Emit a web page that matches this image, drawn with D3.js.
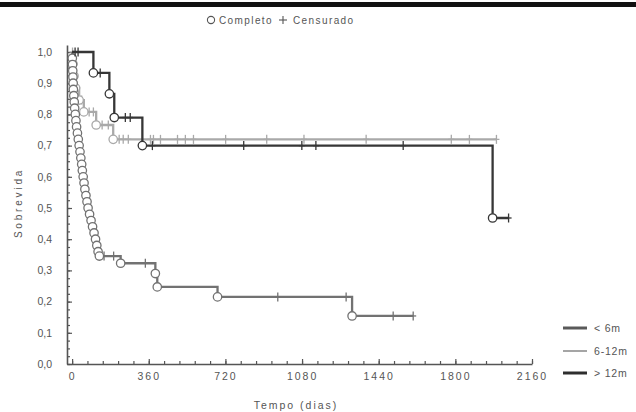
<!DOCTYPE html>
<html><head><meta charset="utf-8">
<script src="https://cdn.jsdelivr.net/npm/d3@7"></script>
<style>
html,body{margin:0;padding:0;background:#fff;}
svg{display:block;}
text{font-family:"Liberation Sans",Arial,sans-serif;fill:#555;}
</style></head>
<body>
<svg id="c" width="636" height="412"></svg>
<script>
// ---- data ----
const groups = ["< 6m", "6-12m", "> 12m"];
const xTicks = [0, 360, 720, 1080, 1440, 1800, 2160];
const yTicks = [0, 0.1, 0.2, 0.3, 0.4, 0.5, 0.6, 0.7, 0.8, 0.9, 1.0];

// < 6m : event times (days) and survival after each event
const lt6Times = [1,2,3,4,5,6,8,10,12,15,18,21,25,29,33,37,41,45,48,52,56,60,65,70,75,82,89,96,103,110,116,122,128,228,391,400,683,1315];
const lt6Surv  = [0.98,0.96,0.94,0.92,0.90,0.88,0.86,0.84,0.82,0.80,0.78,0.76,0.74,0.72,0.70,0.68,0.66,0.64,0.62,0.60,0.58,0.56,0.54,0.52,0.50,0.48,0.46,0.44,0.42,0.40,0.38,0.36,0.346,0.323,0.29,0.247,0.215,0.154];
const lt6Cens  = [150,195,344,966,1287,1508,1602];

// 6-12m
const m612Times = [4,9,16,33,55,113,193];
const m612Surv  = [0.962,0.923,0.885,0.846,0.808,0.766,0.72];
const m612Cens  = [2,45,80,100,141,170,221,240,264,368,382,415,495,532,570,721,914,1089,1381,1781,1866,1993];

// > 12m
const gt12Times = [100,175,198,330,1975];
const gt12Surv  = [0.933,0.866,0.79,0.70,0.468];
const gt12Cens  = [14,28,132,250,273,377,806,1079,1145,1555,2050];

const seriesColors = ["#727272", "#a9a9a9", "#363636"];
const legendColors = ["#5a5a5a", "#a5a5a5", "#2e2e2e"];

// ---- chart ----
const svg = d3.select("#c");
const x = d3.scaleLinear().domain([-24, 2160]).range([67, 532]);
const y = d3.scaleLinear().domain([0, 1.0225]).range([364, 45]);

// top rule
svg.append("rect").attr("x",0).attr("y",2).attr("width",636).attr("height",5).attr("fill","#111");

// axes
const gx = svg.append("g").attr("transform","translate(0,364)");
gx.call(d3.axisBottom(x).tickValues(d3.range(0, 2161, 72)).tickSize(-3).tickSizeOuter(0).tickFormat(""));
const gx2 = svg.append("g").attr("transform","translate(0,364)");
gx2.call(d3.axisBottom(x).tickValues(xTicks).tickSize(-5).tickSizeOuter(0).tickPadding(9).tickFormat(d3.format("d")));
gx2.select(".domain").remove();
const gy = svg.append("g").attr("transform","translate(67,0)");
gy.call(d3.axisLeft(y).tickValues(d3.range(0, 1.0001, 0.025)).tickSize(-3).tickSizeOuter(0).tickFormat(""));
const gy2 = svg.append("g").attr("transform","translate(67,0)");
gy2.call(d3.axisLeft(y).tickValues(yTicks).tickSize(-5).tickSizeOuter(0).tickPadding(15)
  .tickFormat(d => d3.format(".1f")(d).replace(".", ",")));
gy2.select(".domain").remove();
svg.selectAll(".domain").attr("stroke","#555").attr("stroke-width",1.6);
svg.selectAll(".tick line").attr("stroke","#555").attr("stroke-width",1.2);
svg.selectAll(".tick text").attr("font-size","10.5px").attr("fill","#555")
   .attr("font-family","'Liberation Sans',Arial,sans-serif");
gx2.selectAll(".tick text").attr("letter-spacing","2px");

// axis titles
svg.append("text").attr("x",296).attr("y",409).attr("text-anchor","middle")
  .attr("font-size","10.5px").attr("letter-spacing","2px").text("Tempo (dias)");
svg.append("text").attr("transform","translate(22,203) rotate(-90)").attr("text-anchor","middle")
  .attr("font-size","10px").attr("letter-spacing","2.8px").text("Sobrevida");

// KM curves
const seriesData = [
  {times: m612Times, surv: m612Surv, cens: m612Cens, col: seriesColors[1]},
  {times: lt6Times, surv: lt6Surv, cens: lt6Cens, col: seriesColors[0]},
  {times: gt12Times, surv: gt12Surv, cens: gt12Cens, col: seriesColors[2]}
];
const line = d3.line().x(d => x(d[0])).y(d => y(d[1])).curve(d3.curveStepAfter);
function survAt(s, t){ let v = 1; s.times.forEach((ti,i)=>{ if (ti <= t) v = s.surv[i]; }); return v; }

seriesData.forEach(s => {
  const end = Math.max(d3.max(s.times), d3.max(s.cens));
  const pts = [[0,1]].concat(s.times.map((t,i)=>[t, s.surv[i]]));
  pts.push([end, s.surv[s.surv.length-1]]);
  const g = svg.append("g");
  g.append("path").attr("d", line(pts)).attr("fill","none").attr("stroke", s.col).attr("stroke-width", 2.3);
  // censor marks
  s.cens.forEach(t => {
    const cx = x(t), cy = y(survAt(s, t));
    g.append("line").attr("x1",cx).attr("x2",cx).attr("y1",cy-4.5).attr("y2",cy+4.5).attr("stroke",s.col).attr("stroke-width",1.3);
    g.append("line").attr("x1",cx-3).attr("x2",cx+3).attr("y1",cy).attr("y2",cy).attr("stroke",s.col).attr("stroke-width",1.3);
  });
  // event circles
  g.selectAll("circle").data(s.times.map((t,i)=>[t,s.surv[i]])).join("circle")
    .attr("cx", d => x(d[0])).attr("cy", d => y(d[1])).attr("r", 4.2)
    .attr("fill","#fff").attr("stroke", s.col).attr("stroke-width",1.3);
});

// top legend
const lg = svg.append("g");
lg.append("circle").attr("cx",211).attr("cy",20).attr("r",3.6).attr("fill","#fff").attr("stroke","#555").attr("stroke-width",1.1);
lg.append("text").attr("x",219).attr("y",24).attr("font-size","10px").attr("letter-spacing","1.4px").text("Completo");
lg.append("line").attr("x1",283).attr("x2",283).attr("y1",16).attr("y2",24).attr("stroke","#555").attr("stroke-width",1.1);
lg.append("line").attr("x1",279).attr("x2",287).attr("y1",20).attr("y2",20).attr("stroke","#555").attr("stroke-width",1.1);
lg.append("text").attr("x",293).attr("y",24).attr("font-size","10px").attr("letter-spacing","1.4px").text("Censurado");

// bottom-right legend
const legY = [328, 351, 373];
const legW = [3, 2, 3];
groups.forEach((gname, i) => {
  svg.append("line").attr("x1",563).attr("x2",587).attr("y1",legY[i]).attr("y2",legY[i])
    .attr("stroke", legendColors[i]).attr("stroke-width", legW[i]);
  svg.append("text").attr("x",594).attr("y",legY[i]+4).attr("font-size","10.5px").attr("letter-spacing","0.8px").text(gname);
});
</script>
</body></html>
